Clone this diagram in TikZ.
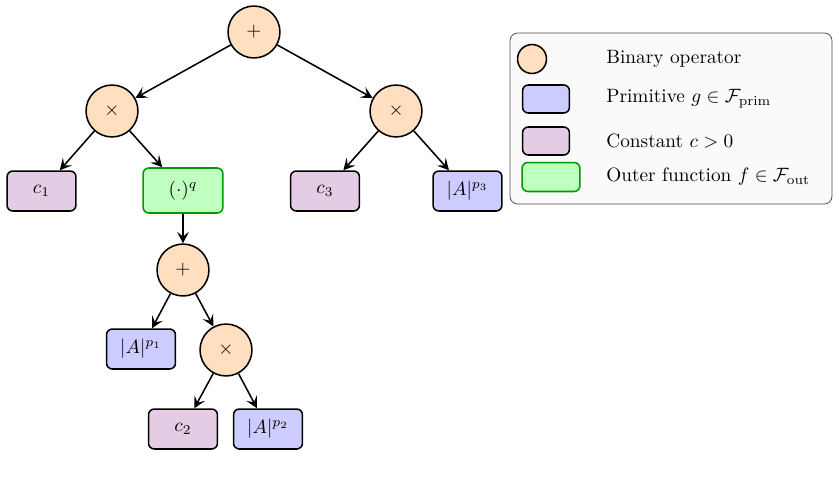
\documentclass[tikz,border=0pt]{standalone}
\usetikzlibrary{arrows.meta}
\begin{document}
\begin{tikzpicture}[x=0.518pt,y=-0.518pt,
  op/.style={circle,draw=black,thick,fill=orange!25,minimum size=26.9pt,inner sep=0pt},
  prim/.style={rectangle,rounded corners=3pt,draw=black,thick,fill=blue!20,minimum width=35.7pt,minimum height=20.7pt,inner sep=1pt},
  const/.style={rectangle,rounded corners=3pt,draw=black,thick,fill=violet!20,minimum width=35.7pt,minimum height=20.7pt,inner sep=1pt},
  outer/.style={rectangle,rounded corners=3pt,draw=green!60!black,thick,fill=green!25,minimum width=41.4pt,minimum height=23.3pt,inner sep=1pt},
  edge/.style={-{Stealth[length=6pt,width=6.2pt,inset=2.6pt]},thick},
  lop/.style={op,minimum size=15pt},
  lbox/.style={minimum width=24.3pt,minimum height=14.5pt},
  ltext/.style={anchor=west,inner sep=0pt}]
\useasboundingbox (0,0) rectangle (839,481);
% tree
\node[op] (root) at (254,32) {$+$};
\node[op] (m1) at (112,111) {$\times$};
\node[op] (m3) at (396,111) {$\times$};
\node[const] (c1) at (41.5,191) {$c_1$};
\node[outer] (q) at (183,190.5) {$(\cdot)^q$};
\node[const] (c3) at (325,191) {$c_3$};
\node[prim] (a3) at (467.5,191) {$|A|^{p_3}$};
\node[op] (p2) at (183,270) {$+$};
\node[prim] (a1) at (141,349) {$|A|^{p_1}$};
\node[op] (m2) at (226,350) {$\times$};
\node[const] (c2) at (183,429) {$c_2$};
\node[prim] (a2) at (268,429) {$|A|^{p_2}$};
\draw[edge] (root) -- (m1);
\draw[edge] (root) -- (m3);
\draw[edge] (m1) -- (c1);
\draw[edge] (m1) -- (q);
\draw[edge] (m3) -- (c3);
\draw[edge] (m3) -- (a3);
\draw[edge] (q) -- (p2);
\draw[edge] (p2) -- (a1);
\draw[edge] (p2) -- (m2);
\draw[edge] (m2) -- (c2);
\draw[edge] (m2) -- (a2);
% legend
\node[draw=black!70,fill=black!2,rounded corners=4pt,minimum width=166.8pt,minimum height=88.6pt,inner sep=0pt] (leg) at (671,118.5) {};
\node[lop] (l1) at (532,59) {};
\node[prim,lbox] (l2) at (546,99) {};
\node[const,lbox] (l3) at (546,141) {};
\node[outer,minimum width=30pt,minimum height=15pt] (l4) at (551,177) {};
\node[ltext] (t1) at (606,59) {Binary operator};
\node[ltext] (t2) at (606,99) {Primitive $g\in\mathcal{F}_{\mathrm{prim}}$};
\node[ltext] (t3) at (606,141) {Constant $c>0$};
\node[ltext] (t4) at (606,177) {Outer function $f\in\mathcal{F}_{\mathrm{out}}$};
\end{tikzpicture}
\end{document}
